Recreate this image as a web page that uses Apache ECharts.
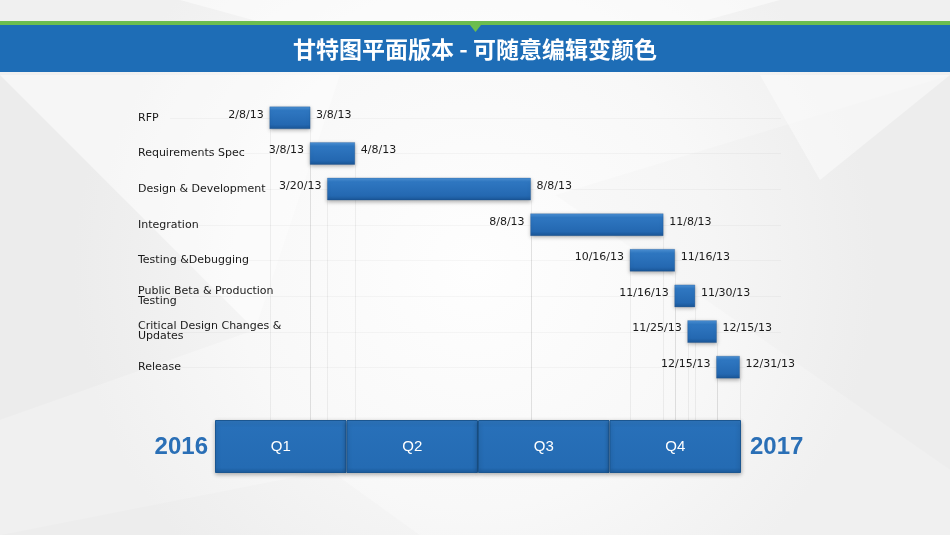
<!DOCTYPE html>
<html>
<head>
<meta charset="utf-8">
<script src="https://cdn.jsdelivr.net/npm/echarts@6/dist/echarts.min.js"></script>
<style>
  html, body { margin: 0; padding: 0; }
  #main { width: 950px; height: 535px; }
</style>
</head>
<body>
<div id="main"></div>
<script>
// 甘特图 data
const titleText = '甘特图平面版本 - 可随意编辑变颜色';
const tasks = [
  'RFP',
  'Requirements Spec',
  'Design & Development',
  'Integration',
  'Testing &Debugging',
  'Public Beta & Production\nTesting',
  'Critical Design Changes &\nUpdates',
  'Release'
];
const startDates = ['2/8/13', '3/8/13', '3/20/13', '8/8/13', '10/16/13', '11/16/13', '11/25/13', '12/15/13'];
const endDates = ['3/8/13', '4/8/13', '8/8/13', '11/8/13', '11/16/13', '11/30/13', '12/15/13', '12/31/13'];
const quarters = ['Q1', 'Q2', 'Q3', 'Q4'];
const yearStart = '2016';
const yearEnd = '2017';
const axisStart = '1/1/13';
const axisEnd = '1/1/14';

// M/D/YY -> day number
function toDay(s) {
  const p = s.split('/');
  return Date.UTC(2000 + Number(p[2]), Number(p[0]) - 1, Number(p[1])) / 86400000;
}

const taskData = tasks.map((t, i) => [i, toDay(startDates[i]), toDay(endDates[i])]);

const blue = '#1e6db6';
const barFill = new echarts.graphic.LinearGradient(0, 0, 0, 1, [
  { offset: 0, color: '#4d92d6' },
  { offset: 0.18, color: '#2f77c1' },
  { offset: 0.8, color: '#2468b1' },
  { offset: 1, color: '#1a5595' }
]);

function renderTask(params, api) {
  const i = params.dataIndex;
  const row = api.value(0);
  const p0 = api.coord([api.value(1), row]);
  const p1 = api.coord([api.value(2), row]);
  const cs = params.coordSys;
  const h = 22;
  const guideEnd = cs.y + cs.height + 35;
  const xs = Math.round(p0[0]) + 0.5;
  const xe = Math.round(p1[0]) + 0.5;
  const yc = Math.round(p0[1]) + 0.5;
  return {
    type: 'group',
    children: [
      {
        type: 'line', silent: true, z2: 0,
        shape: { x1: cs.x - 45, y1: yc, x2: cs.x + cs.width + 40, y2: yc },
        style: { stroke: 'rgba(0,0,0,0.03)', lineWidth: 1 }
      },
      {
        type: 'line', silent: true, z2: 0,
        shape: { x1: xs, y1: yc + h / 2, x2: xs, y2: guideEnd },
        style: { stroke: 'rgba(0,0,0,0.055)', lineWidth: 1 }
      },
      {
        type: 'line', silent: true, z2: 0,
        shape: { x1: xe, y1: yc + h / 2, x2: xe, y2: guideEnd },
        style: { stroke: 'rgba(0,0,0,0.055)', lineWidth: 1 }
      },
      {
        type: 'rect', z2: 5,
        shape: { x: p0[0], y: p0[1] - h / 2, width: p1[0] - p0[0], height: h },
        style: {
          fill: barFill,
          stroke: 'rgba(20,70,130,0.5)',
          lineWidth: 0.5,
          shadowBlur: 4,
          shadowColor: 'rgba(0,0,0,0.3)',
          shadowOffsetY: 1.5
        }
      },
      {
        type: 'text', z2: 6,
        style: {
          x: p0[0] - 6, y: p0[1] - 3,
          text: startDates[i],
          align: 'right', verticalAlign: 'middle',
          fontFamily: 'DejaVu Sans', fontSize: 11, fill: '#1a1a1a'
        }
      },
      {
        type: 'text', z2: 6,
        style: {
          x: p1[0] + 6, y: p0[1] - 3,
          text: endDates[i],
          align: 'left', verticalAlign: 'middle',
          fontFamily: 'DejaVu Sans', fontSize: 11, fill: '#1a1a1a'
        }
      }
    ]
  };
}

const myChart = echarts.init(document.getElementById('main'));

const option = {
  animation: false,
  backgroundColor: '#f5f5f5',
  graphic: [
    {
      type: 'rect', z: -10, silent: true,
      shape: { x: 0, y: 0, width: 950, height: 535 },
      style: {
        fill: new echarts.graphic.RadialGradient(0.5, 0.5, 0.75, [
          { offset: 0, color: '#fefefe' },
          { offset: 0.6, color: '#f8f8f8' },
          { offset: 1, color: '#f0f0f0' }
        ])
      }
    },
    { type: 'polygon', z: -9, silent: true, shape: { points: [[0, 75], [0, 420], [255, 330]] }, style: { fill: 'rgba(0,0,0,0.015)' } },
    { type: 'polygon', z: -9, silent: true, shape: { points: [[0, 75], [340, 75], [255, 330]] }, style: { fill: 'rgba(255,255,255,0.4)' } },
    { type: 'polygon', z: -9, silent: true, shape: { points: [[950, 75], [950, 470], [555, 195]] }, style: { fill: 'rgba(0,0,0,0.012)' } },
    { type: 'polygon', z: -9, silent: true, shape: { points: [[760, 75], [950, 75], [820, 180]] }, style: { fill: 'rgba(255,255,255,0.45)' } },
    { type: 'polygon', z: -9, silent: true, shape: { points: [[180, 0], [780, 0], [700, 22], [260, 22]] }, style: { fill: 'rgba(255,255,255,0.5)' } },
    { type: 'polygon', z: -9, silent: true, shape: { points: [[0, 535], [330, 470], [420, 535]] }, style: { fill: 'rgba(0,0,0,0.012)' } },
    // title band
    { type: 'rect', z: 10, silent: true, shape: { x: 0, y: 21, width: 950, height: 4 }, style: { fill: '#6cbd4f' } },
    { type: 'rect', z: 10, silent: true, shape: { x: 0, y: 25, width: 950, height: 47 }, style: { fill: blue } },
    { type: 'polygon', z: 11, silent: true, shape: { points: [[470, 25], [481, 25], [475.5, 32]] }, style: { fill: '#6cbd4f' } },
    {
      type: 'text', z: 12, silent: true,
      style: {
        x: 475, y: 49, text: titleText,
        align: 'center', verticalAlign: 'middle',
        fontFamily: 'Noto Sans CJK SC', fontWeight: 'bold', fontSize: 23, fill: '#ffffff'
      }
    },
    {
      type: 'text', z: 12, silent: true,
      style: {
        x: 208, y: 447, text: yearStart,
        align: 'right', verticalAlign: 'middle',
        fontFamily: 'Liberation Sans', fontWeight: 'bold', fontSize: 24, fill: '#2a6fb6'
      }
    },
    {
      type: 'text', z: 12, silent: true,
      style: {
        x: 750, y: 447, text: yearEnd,
        align: 'left', verticalAlign: 'middle',
        fontFamily: 'Liberation Sans', fontWeight: 'bold', fontSize: 24, fill: '#2a6fb6'
      }
    }
  ],
  grid: [
    { left: 215, width: 526, top: 100, height: 285 },
    { left: 215, width: 526, top: 420, height: 53 }
  ],
  xAxis: [
    {
      gridIndex: 0, type: 'value',
      min: toDay(axisStart), max: toDay(axisEnd),
      show: false
    },
    {
      gridIndex: 1, type: 'category', data: quarters,
      show: false
    }
  ],
  yAxis: [
    {
      gridIndex: 0, type: 'category', data: tasks, inverse: true,
      axisLine: { show: false },
      axisTick: { show: false },
      splitLine: { show: false },
      axisLabel: {
        align: 'left', margin: 77,
        fontFamily: 'DejaVu Sans', fontSize: 11, lineHeight: 10, color: '#1a1a1a'
      }
    },
    {
      gridIndex: 1, type: 'value', min: 0, max: 1, show: false
    }
  ],
  series: [
    {
      type: 'custom',
      xAxisIndex: 0, yAxisIndex: 0,
      renderItem: renderTask,
      encode: { x: [1, 2], y: 0 },
      clip: false,
      data: taskData
    },
    {
      type: 'bar',
      xAxisIndex: 1, yAxisIndex: 1,
      barCategoryGap: '0%',
      data: quarters.map(() => 1),
      itemStyle: {
        color: new echarts.graphic.LinearGradient(0, 0, 0, 1, [
          { offset: 0, color: '#3179c2' },
          { offset: 0.1, color: '#2870b9' },
          { offset: 0.9, color: '#246bb3' },
          { offset: 1, color: '#1c5c9e' }
        ]),
        borderColor: '#1b5690',
        borderWidth: 1,
        shadowBlur: 4,
        shadowColor: 'rgba(0,0,0,0.3)',
        shadowOffsetY: 1.5
      },
      label: {
        show: true, position: 'inside',
        formatter: '{b}',
        fontFamily: 'Liberation Sans', fontSize: 15, color: '#ffffff'
      }
    }
  ]
};

myChart.setOption(option);
</script>
</body>
</html>
